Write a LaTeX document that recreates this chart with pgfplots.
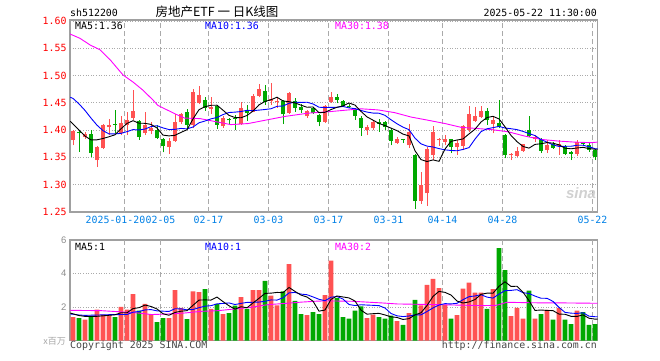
\documentclass[border=0pt]{standalone}
\usepackage{fontspec}
\setmainfont{Liberation Sans}
\newfontfamily\mono{DejaVu Sans Mono}
\newfontfamily\cjk{Noto Sans CJK SC}
\usepackage{pgfplots}
\usepackage{pgfplotstable}
\pgfplotsset{compat=1.18}
\definecolor{cRed}{RGB}{255,82,82}
\definecolor{cGrn}{RGB}{0,168,0}
\definecolor{cBlue}{RGB}{0,0,255}
\definecolor{cMag}{RGB}{255,0,255}
\definecolor{cFrame}{RGB}{160,160,160}
\definecolor{cGrid}{RGB}{170,170,170}
\definecolor{cDate}{RGB}{0,128,230}
\definecolor{cTxt}{RGB}{70,70,70}

\pgfplotstableread{
i O H L C V
0 1.381 1.400 1.372 1.398 1.41
2 1.387 1.396 1.384 1.392 1.25
4 1.345 1.370 1.332 1.369 1.85
5 1.367 1.412 1.365 1.410 1.55
6 1.405 1.421 1.391 1.410 1.51
8 1.394 1.425 1.391 1.413 2.01
9 1.410 1.434 1.391 1.418 1.85
10 1.423 1.473 1.418 1.435 2.78
12 1.394 1.434 1.391 1.409 2.19
13 1.399 1.414 1.392 1.403 1.59
16 1.369 1.385 1.356 1.380 1.35
17 1.380 1.430 1.379 1.414 3.02
18 1.414 1.432 1.412 1.430 1.95
20 1.410 1.475 1.403 1.469 2.94
21 1.449 1.480 1.447 1.465 2.90
23 1.438 1.460 1.430 1.443 1.89
25 1.407 1.425 1.404 1.423 1.59
28 1.412 1.451 1.410 1.441 2.60
30 1.434 1.466 1.433 1.463 3.02
31 1.462 1.484 1.460 1.475 3.02
33 1.454 1.486 1.446 1.457 2.68
34 1.451 1.460 1.441 1.454 2.11
36 1.431 1.470 1.430 1.468 4.57
39 1.425 1.437 1.423 1.435 1.53
42 1.415 1.446 1.413 1.445 2.72
43 1.452 1.470 1.450 1.461 4.77
49 1.400 1.409 1.391 1.406 1.35
50 1.403 1.417 1.400 1.414 1.55
54 1.377 1.388 1.375 1.383 1.17
56 1.372 1.412 1.368 1.396 1.65
58 1.270 1.323 1.265 1.299 2.11
59 1.284 1.369 1.261 1.365 3.32
60 1.354 1.407 1.346 1.397 3.68
61 1.381 1.386 1.371 1.383 3.14
62 1.379 1.391 1.372 1.383 2.15
64 1.369 1.382 1.354 1.377 1.53
65 1.371 1.410 1.363 1.407 3.10
66 1.400 1.444 1.397 1.429 3.46
67 1.417 1.443 1.415 1.426 2.86
68 1.424 1.444 1.423 1.435 2.86
70 1.412 1.426 1.394 1.418 3.08
73 1.354 1.358 1.345 1.356 1.47
74 1.352 1.369 1.351 1.361 1.95
75 1.362 1.375 1.360 1.374 1.31
77 1.383 1.391 1.379 1.388 1.31
79 1.364 1.382 1.358 1.372 1.83
81 1.371 1.382 1.354 1.375 1.95
84 1.356 1.382 1.352 1.379 1.79
}\redtab

\pgfplotstableread{
i O H L C V
1 1.396 1.398 1.360 1.394 1.35
3 1.392 1.400 1.350 1.358 1.41
7 1.412 1.436 1.394 1.410 1.41
11 1.416 1.418 1.382 1.387 1.79
14 1.401 1.409 1.384 1.385 1.11
15 1.384 1.385 1.359 1.370 1.35
19 1.433 1.438 1.403 1.409 1.29
22 1.455 1.460 1.435 1.441 3.08
24 1.444 1.446 1.402 1.410 2.19
26 1.420 1.423 1.410 1.418 1.65
27 1.423 1.427 1.401 1.421 2.09
29 1.436 1.446 1.417 1.431 1.89
32 1.471 1.483 1.446 1.452 3.56
35 1.454 1.456 1.411 1.429 2.94
37 1.454 1.459 1.434 1.441 2.38
38 1.443 1.447 1.431 1.436 1.59
40 1.440 1.443 1.430 1.432 1.71
41 1.428 1.430 1.407 1.415 1.59
44 1.461 1.466 1.449 1.456 2.54
45 1.454 1.456 1.443 1.444 1.41
46 1.445 1.448 1.440 1.442 1.31
47 1.438 1.440 1.419 1.426 1.79
48 1.423 1.425 1.389 1.403 2.05
51 1.414 1.420 1.397 1.412 1.41
52 1.414 1.416 1.400 1.406 1.31
53 1.401 1.403 1.372 1.380 1.49
55 1.384 1.384 1.376 1.382 0.95
57 1.354 1.356 1.256 1.270 2.44
63 1.383 1.384 1.358 1.369 1.31
69 1.435 1.440 1.409 1.418 1.89
71 1.413 1.456 1.403 1.405 5.52
72 1.391 1.393 1.348 1.354 4.21
76 1.401 1.426 1.388 1.390 2.98
78 1.383 1.385 1.358 1.362 1.59
80 1.375 1.378 1.366 1.368 1.25
82 1.371 1.373 1.354 1.357 1.25
83 1.359 1.362 1.345 1.357 0.99
85 1.377 1.378 1.370 1.374 1.71
86 1.372 1.376 1.360 1.364 0.95
87 1.364 1.365 1.345 1.351 0.99
}\grntab

\pgfplotstableread{
i ma5 ma10 v5 v10
-0.45 1.416 1.460 1.65 1.59
0 1.411 1.458 1.60 1.58
1 1.400 1.448 1.50 1.53
2 1.389 1.436 1.45 1.51
3 1.382 1.422 1.45 1.52
4 1.3822 1.409 1.454 1.53
5 1.3846 1.399 1.482 1.54
6 1.3878 1.393 1.514 1.55
7 1.3914 1.393 1.546 1.55
8 1.4024 1.394 1.666 1.56
9 1.4122 1.3972 1.666 1.560
10 1.4172 1.4009 1.912 1.697
11 1.4126 1.4002 1.968 1.741
12 1.4124 1.4019 2.124 1.835
13 1.4104 1.4064 2.040 1.853
14 1.4038 1.4080 1.892 1.779
15 1.3908 1.4040 1.606 1.759
16 1.3894 1.4010 1.518 1.743
17 1.3904 1.4014 1.684 1.904
18 1.3958 1.4031 1.756 1.898
19 1.4006 1.4022 1.792 1.842
20 1.4204 1.4056 2.110 1.858
21 1.4374 1.4134 2.420 1.969
22 1.4428 1.4166 2.432 2.058
23 1.4454 1.4206 2.420 2.088
24 1.4456 1.4231 2.600 2.196
25 1.4364 1.4284 2.330 2.220
26 1.4270 1.4322 2.080 2.250
27 1.4230 1.4329 1.882 2.157
28 1.4226 1.4340 2.024 2.222
29 1.4268 1.4362 1.964 2.282
30 1.4348 1.4356 2.250 2.290
31 1.4462 1.4366 2.524 2.302
32 1.4524 1.4377 2.818 2.350
33 1.4556 1.4391 2.834 2.429
34 1.4602 1.4435 2.878 2.421
35 1.4534 1.4441 2.862 2.556
36 1.4520 1.4491 3.172 2.848
37 1.4498 1.4511 2.936 2.877
38 1.4456 1.4506 2.718 2.776
39 1.4418 1.4510 2.602 2.740
40 1.4424 1.4479 2.356 2.609
41 1.4318 1.4419 1.760 2.466
42 1.4326 1.4412 1.828 2.382
43 1.4376 1.4416 2.464 2.591
44 1.4418 1.4418 2.666 2.634
45 1.4442 1.4433 2.606 2.481
46 1.4496 1.4407 2.550 2.155
47 1.4458 1.4392 2.364 2.096
48 1.4342 1.4359 1.820 2.142
49 1.4242 1.4330 1.582 2.124
50 1.4182 1.4312 1.610 2.108
51 1.4122 1.4309 1.630 2.090
52 1.4082 1.4270 1.534 1.949
53 1.4036 1.4189 1.422 1.621
54 1.3990 1.4116 1.386 1.484
55 1.3926 1.4054 1.266 1.438
56 1.3894 1.4008 1.314 1.472
57 1.3622 1.3852 1.540 1.537
58 1.3460 1.3748 1.664 1.543
59 1.3424 1.3707 2.094 1.740
60 1.3454 1.3690 2.640 1.953
61 1.3428 1.3661 2.938 2.126
62 1.3654 1.3638 2.880 2.210
63 1.3794 1.3627 2.720 2.192
64 1.3818 1.3621 2.362 2.228
65 1.3838 1.3646 2.246 2.443
66 1.3930 1.3679 2.310 2.624
67 1.4016 1.3835 2.452 2.666
68 1.4148 1.3971 2.762 2.741
69 1.4230 1.4024 2.834 2.598
70 1.4252 1.4045 2.830 2.538
71 1.4204 1.4067 3.242 2.776
72 1.4060 1.4038 3.512 2.982
73 1.3902 1.4025 3.234 2.998
74 1.3788 1.4009 3.246 3.040
75 1.3700 1.3976 2.892 2.861
76 1.3670 1.3937 2.384 2.813
77 1.3738 1.3899 1.804 2.658
78 1.3750 1.3826 1.828 2.531
79 1.3772 1.3780 1.804 2.525
80 1.3760 1.3730 1.792 2.342
81 1.3730 1.3700 1.586 1.985
82 1.3668 1.3703 1.574 1.689
83 1.3658 1.3704 1.454 1.641
84 1.3672 1.3722 1.446 1.625
85 1.3684 1.3722 1.538 1.665
86 1.3662 1.3696 1.338 1.462
87 1.3650 1.3659 1.286 1.430
87.45 1.3650 1.3659 1.286 1.430
}\matab

\pgfplotstableread{
i m
-0.5 1.576
1.17 1.568
2.83 1.556
4.5 1.547
6.17 1.529
8.33 1.501
10 1.488
11.67 1.473
13.33 1.455
14.17 1.445
15.67 1.437
16.95 1.430
18.6 1.422
21.2 1.421
24 1.415
26.3 1.410
29.2 1.412
32 1.418
35.3 1.425
39.2 1.431
43 1.434
48 1.439
50.8 1.437
53.6 1.432
56.3 1.424
59.2 1.418
62 1.412
64.7 1.405
69.7 1.401
72.5 1.397
75.3 1.389
78 1.383
80.8 1.380
83.6 1.378
86.3 1.377
87.45 1.378
}\mathirty

\pgfplotstableread{
i m
-0.45 1.81
4.7 1.79
10.3 1.67
13.1 1.56
15.8 1.59
18.6 1.65
21.4 1.75
24.2 1.79
26.9 1.89
29.7 1.99
32.5 2.15
35.3 2.22
38.1 2.30
40.8 2.36
42.8 2.37
46.5 2.35
51.5 2.25
54 2.19
57.3 2.17
60.6 2.15
64.3 2.12
68.2 2.09
70.6 2.11
72.3 2.29
76.5 2.26
82.1 2.25
87.45 2.23
}\vthirty

\pgfplotsset{
  kbase/.style={
    scale only axis, width=527.7pt,
    xmin=-0.5, xmax=87.45,
    axis line style={cFrame, line width=1.3pt},
    major tick length=0pt,
    ymajorgrids,
    grid style={cGrid, line width=0.7pt, dash pattern=on 1pt off 1.6pt},
  },
  wick/.style={draw=none, mark=none,
    error bars/.cd, y dir=plus, y explicit,
    error bar style={draw=#1, line width=1pt, solid}, error mark=none},
  body/.style={draw=none, mark=none,
    error bars/.cd, y dir=plus, y explicit,
    error bar style={draw=#1, line width=4.6pt, solid}, error mark=none},
}
\newcommand\vlines[2]{%
  \pgfplotsinvokeforeach{8.58,14.58,22.58,32.58,42.58,52.58,61.58,71.58,86.58}{%
    \draw[cGrid, line width=0.8pt, dash pattern=on 5pt off 3pt] (axis cs:##1,#1) -- (axis cs:##1,#2);}}

\begin{document}
\begin{tikzpicture}[x=1pt,y=1pt]
\useasboundingbox (0,0) rectangle (660,360);

% ---------------- price panel ----------------
\begin{axis}[kbase,
  at={(70pt,148pt)}, anchor=south west, height=192pt,
  ymin=1.25, ymax=1.6016,
  ytick={1.25,1.30,1.35,1.40,1.45,1.50,1.55,1.60},
  yticklabels={1.25,1.30,1.35,1.40,1.45,1.50,1.55,1.60},
  y tick label style={font=\mono\fontsize{9.9}{11}\selectfont, text=red},
  xtick={8.58,14.58,22.58,32.58,42.58,52.58,61.58,71.58,86.58},
  xticklabels={2025-01-20\rule{18pt}{0pt},02-05,02-17,03-03,03-17,03-31,04-14,04-28,05-22},
  x tick label style={font=\mono\fontsize{9.9}{11}\selectfont, text=cDate, yshift=-1pt},
]
\vlines{1.25}{1.6016}
\addplot[wick=cRed] table[x=i, y=L, y error expr=\thisrow{H}-\thisrow{L}] {\redtab};
\addplot[wick=cGrn] table[x=i, y=L, y error expr=\thisrow{H}-\thisrow{L}] {\grntab};
\addplot[body=cRed] table[x=i, y=O, y error expr=\thisrow{C}-\thisrow{O}] {\redtab};
\addplot[body=cGrn] table[x=i, y=C, y error expr=\thisrow{O}-\thisrow{C}] {\grntab};
\addplot[cMag, line width=0.9pt, mark=none] table[x=i, y=m] {\mathirty};
\addplot[cBlue, line width=0.9pt, mark=none] table[x=i, y=ma10] {\matab};
\addplot[black, line width=0.9pt, mark=none] table[x=i, y=ma5] {\matab};
\end{axis}

% ---------------- volume panel ----------------
\begin{axis}[kbase,
  at={(70pt,19.3pt)}, anchor=south west, height=100.7pt,
  ymin=0, ymax=6,
  ytick={2,4,6}, yticklabels={2,4,6},
  y tick label style={font=\fontsize{9.5}{10}\selectfont, text=black!45},
  xtick=\empty,
]
\vlines{0}{6}
\addplot[ybar, bar width=4.8pt, bar shift=0pt, fill=cRed, draw=none] table[x=i, y=V] {\redtab};
\addplot[ybar, bar width=4.8pt, bar shift=0pt, fill=cGrn, draw=none] table[x=i, y=V] {\grntab};
\addplot[cMag, line width=0.9pt, mark=none] table[x=i, y=m] {\vthirty};
\addplot[cBlue, line width=0.9pt, mark=none] table[x=i, y=v10] {\matab};
\addplot[black, line width=0.9pt, mark=none] table[x=i, y=v5] {\matab};
\end{axis}

% ---------------- texts ----------------
\def\mf{\mono\fontsize{9.9}{11}\selectfont}
\node[anchor=base west, inner sep=0, font=\mf] at (70,343.5) {sh512200};
\node[anchor=base, inner sep=0, font=\cjk\fontsize{12.5}{14}\selectfont] at (217,343.5) {房地产ETF 一 日K线图};
\node[anchor=base east, inner sep=0, font=\mf] at (597,343.5) {2025-05-22 11:30:00};

\node[anchor=base west, inner sep=0, font=\mf, text=black] at (75,330.5) {MA5:1.36};
\node[anchor=base west, inner sep=0, font=\mf, text=cBlue] at (205,330.5) {MA10:1.36};
\node[anchor=base west, inner sep=0, font=\mf, text=cMag] at (335,330.5) {MA30:1.38};

\node[anchor=base west, inner sep=0, font=\mf, text=black] at (75,109.5) {MA5:1};
\node[anchor=base west, inner sep=0, font=\mf, text=cBlue] at (205,109.5) {MA10:1};
\node[anchor=base west, inner sep=0, font=\mf, text=cMag] at (335,109.5) {MA30:2};

\node[anchor=center, inner sep=0, font=\bfseries\itshape\fontsize{15}{15}\selectfont, text=black!18] at (581,167) {sina};

\node[anchor=base east, inner sep=0, font=\cjk\fontsize{9}{10}\selectfont, text=black!35] at (66,15.5) {x百万};
\node[anchor=base west, inner sep=0, font=\mf, text=cTxt] at (70,11.5) {Copyright 2025 SINA.COM};
\node[anchor=base east, inner sep=0, font=\mf, text=cTxt] at (597,11.5) {http://finance.sina.com.cn};
\end{tikzpicture}
\end{document}
